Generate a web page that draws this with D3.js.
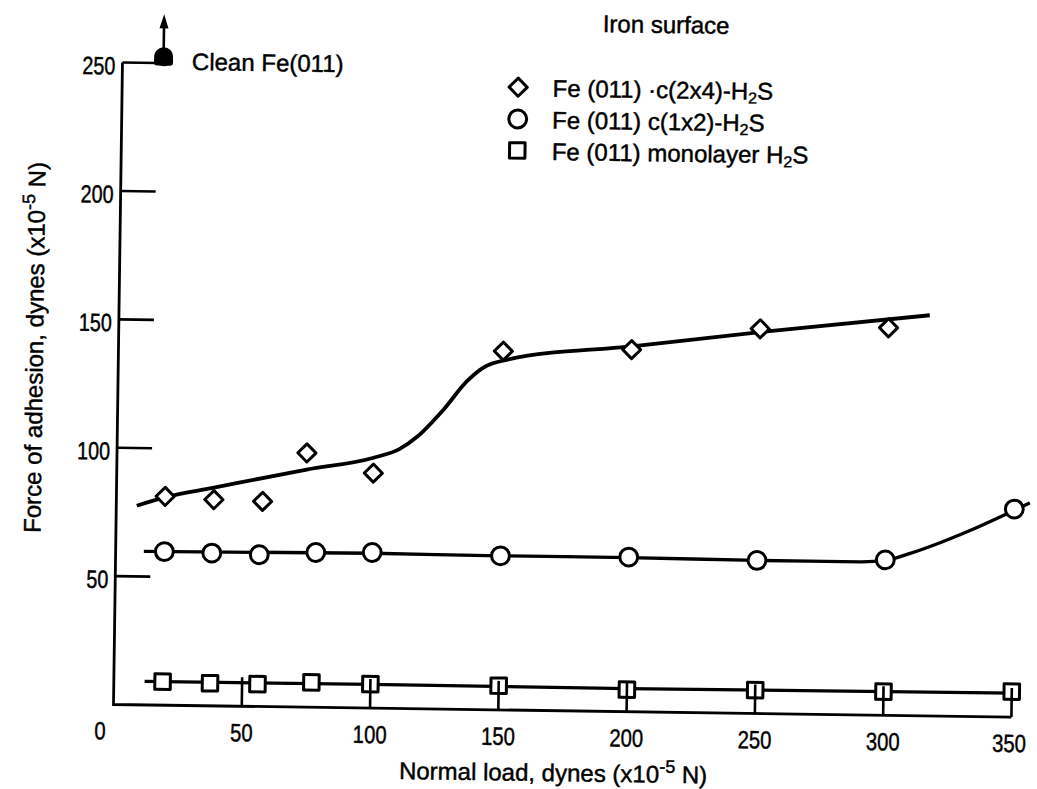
<!DOCTYPE html>
<html><head><meta charset="utf-8">
<script src="https://cdn.jsdelivr.net/npm/d3@7"></script>
<style>
html,body{margin:0;padding:0;background:#fff;}
svg{display:block;}
text{font-family:"Liberation Sans", Arial, sans-serif; fill:#000; stroke:#000; stroke-width:0.45px;}
</style></head><body>
<svg id="chart" width="1037" height="789"></svg>
<script>
// ---- data ----
const loadC2x4 = [19, 38, 57, 74, 100, 150, 200, 250, 300];
const adhC2x4  = [81.3, 80.3, 79.9, 99.0, 91.5, 139.7, 141.0, 149.8, 150.9];
const loadC1x2 = [19, 37.5, 56, 78, 100, 150, 200, 250, 300, 350];
const adhC1x2  = [59.8, 59.5, 59.1, 60.3, 60.6, 60.0, 60.2, 59.6, 60.5, 81.0];
const loadMono = [19, 37.5, 56, 77, 100, 150, 200, 250, 300, 350];
const adhMono  = [9.2, 8.8, 8.7, 9.7, 9.3, 9.4, 8.6, 9.1, 9.2, 9.9];
// hand-drawn fit curves
const fitC2x4Load = [8, 19, 38, 74, 100, 110, 117, 127, 136, 142, 152, 200, 250, 316];
const fitC2x4Adh  = [77.5, 81, 85, 92.5, 97.5, 101, 106, 116.6, 127.8, 133, 136.5, 142.3, 148.5, 156];
const fitC1x2Load = [11, 100, 150, 200, 250, 290, 300, 310, 322, 336, 350, 356];
const fitC1x2Adh  = [59.8, 60.3, 60.0, 60.0, 59.6, 59.6, 60.3, 63.3, 67.8, 73.8, 80.5, 83.5];
const fitMonoLoad = [12, 100, 200, 350];
const fitMonoAdh  = [9.2, 9.2, 9.0, 9.3];
// clean surface point (off scale, arrow upward)
const cleanLoad = [16];
const cleanAdh  = [252.5];
const cleanArrowTo = 269;
// axes
const xTicks = [50, 100, 150, 200, 250, 300, 350];
const xTickLabels = ["0", "50", "100", "150", "200", "250", "300", "350"];
const xLabelValues = [0, 50, 100, 150, 200, 250, 300, 350];
const yTicks = [50, 100, 150, 200, 250];
const yTickLabels = ["50", "100", "150", "200", "250"];
const legendItems = [
  {sym: "diamond", pre: "Fe (011) \u00b7c(2x4)-H", sub: "2", post: "S"},
  {sym: "circle",  pre: "Fe (011) c(1x2)-H", sub: "2", post: "S"},
  {sym: "square",  pre: "Fe (011) monolayer H", sub: "2", post: "S"}
];

// ---- drawing ----
const svg = d3.select("#chart");
svg.append("rect").attr("width", 1037).attr("height", 789).attr("fill", "#fff");
const g = svg.append("g").attr("transform", "rotate(0.8,113.5,704.5)");

const x = d3.scaleLinear().domain([0, 350]).range([113.5, 1011.5]);
const y = d3.scaleLinear().domain([0, 250]).range([704.5, 62.5]);

const ink = "#000";

// axis lines
g.append("path").attr("d", d3.line()([[x(0), y(250)], [x(0), y(0)], [x(350), y(0)]]))
  .attr("fill", "none").attr("stroke", ink).attr("stroke-width", 2.8);

// fit curves
const lineMono = d3.line().x(d => x(d[0])).y(d => y(d[1]));
const lineSmooth = d3.line().x(d => x(d[0])).y(d => y(d[1])).curve(d3.curveMonotoneX);
g.append("path").attr("d", lineSmooth(d3.zip(fitC2x4Load, fitC2x4Adh)))
  .attr("fill", "none").attr("stroke", ink).attr("stroke-width", 3.8);
g.append("path").attr("d", lineSmooth(d3.zip(fitC1x2Load, fitC1x2Adh)))
  .attr("fill", "none").attr("stroke", ink).attr("stroke-width", 3.3);
g.append("path").attr("d", lineMono(d3.zip(fitMonoLoad, fitMonoAdh)))
  .attr("fill", "none").attr("stroke", ink).attr("stroke-width", 3.3);

// markers
const sym = {
  diamond: d3.symbol().type(d3.symbolSquare).size(165),
  circle: d3.symbol().type(d3.symbolCircle).size(250),
  square: d3.symbol().type(d3.symbolSquare).size(240)
};
function drawMarker(sel, type) {
  const p = sel.append("path").attr("d", sym[type]())
    .attr("fill", "#fff").attr("stroke", ink).attr("stroke-width", 3)
    .attr("stroke-linejoin", "round");
  if (type === "diamond") p.attr("transform", "rotate(45)");
  return p;
}
function series(loads, vals, type) {
  d3.zip(loads, vals).forEach(d => {
    const m = g.append("g").attr("transform", `translate(${x(d[0])},${y(d[1])})`);
    drawMarker(m, type);
  });
}
series(loadC2x4, adhC2x4, "diamond");
series(loadC1x2, adhC1x2, "circle");
series(loadMono, adhMono, "square");

// ticks (inward), drawn over markers
g.selectAll(".xt").data(xTicks).join("line")
  .attr("x1", d => x(d)).attr("x2", d => x(d))
  .attr("y1", y(0)).attr("y2", y(0) - 29)
  .attr("stroke", ink).attr("stroke-width", 2.6);
g.selectAll(".yt").data(yTicks).join("line")
  .attr("x1", x(0)).attr("x2", x(0) + 35)
  .attr("y1", d => y(d)).attr("y2", d => y(d))
  .attr("stroke", ink).attr("stroke-width", 2.6);

// tick labels (condensed digits)
g.selectAll(".xl").data(xLabelValues).join("text")
  .attr("x", d => x(d) + (d === 0 ? -13 : d === 350 ? -2 : 0))
  .attr("y", y(0) + 35)
  .attr("text-anchor", "middle").attr("font-size", 25)
  .attr("textLength", (d, i) => xTickLabels[i].length * 11.3)
  .attr("lengthAdjust", "spacingAndGlyphs")
  .text((d, i) => xTickLabels[i]);
g.selectAll(".yl").data(yTicks).join("text")
  .attr("x", x(0) - 7)
  .attr("y", d => y(d) + 12)
  .attr("text-anchor", "end").attr("font-size", 25)
  .attr("textLength", (d, i) => yTickLabels[i].length * 11)
  .attr("lengthAdjust", "spacingAndGlyphs")
  .text((d, i) => yTickLabels[i]);

// clean Fe point with arrow
const cx = x(cleanLoad[0]), cy = y(cleanAdh[0]);
g.append("line").attr("x1", cx).attr("x2", cx).attr("y1", cy).attr("y2", y(cleanArrowTo) + 10)
  .attr("stroke", ink).attr("stroke-width", 2.6);
g.append("path").attr("d", d3.line()([[cx, y(cleanArrowTo)], [cx - 4.5, y(cleanArrowTo) + 14], [cx + 4.5, y(cleanArrowTo) + 14]]) + "Z")
  .attr("fill", ink);
g.append("circle").attr("cx", cx).attr("cy", cy).attr("r", 9.5).attr("fill", ink);
g.append("rect").attr("x", cx - 9.5).attr("y", cy).attr("width", 19).attr("height", 9)
  .attr("rx", 3).attr("fill", ink);
g.append("text").attr("x", 183).attr("y", 69).attr("font-size", 24).text("Clean Fe(011)");

// legend
g.append("text").attr("x", 656.6).attr("y", 25.3).attr("text-anchor", "middle")
  .attr("font-size", 24).text("Iron surface");
const legY = [81.6, 113.4, 144.9];
legendItems.forEach((it, i) => {
  const m = g.append("g").attr("transform", `translate(509.5,${legY[i]})`);
  drawMarker(m, it.sym);
  const t = g.append("text").attr("x", 544).attr("y", legY[i] + 9).attr("font-size", 24);
  t.append("tspan").text(it.pre);
  t.append("tspan").attr("dy", 4).attr("font-size", 16).text(it.sub);
  t.append("tspan").attr("dy", -4).text(it.post);
});

// axis titles
const xt = g.append("text").attr("x", 554).attr("y", 775).attr("text-anchor", "middle").attr("font-size", 24);
xt.append("tspan").text("Normal load, dynes (x10");
xt.append("tspan").attr("dy", -10).attr("font-size", 18).text("-5");
xt.append("tspan").attr("dy", 10).text(" N)");

const yt = g.append("text").attr("transform", "translate(38,348.5) rotate(-90)")
  .attr("text-anchor", "middle").attr("font-size", 24);
yt.append("tspan").text("Force of adhesion, dynes (x10");
yt.append("tspan").attr("dy", -10).attr("font-size", 18).text("-5");
yt.append("tspan").attr("dy", 10).text(" N)");
</script>
</body></html>
